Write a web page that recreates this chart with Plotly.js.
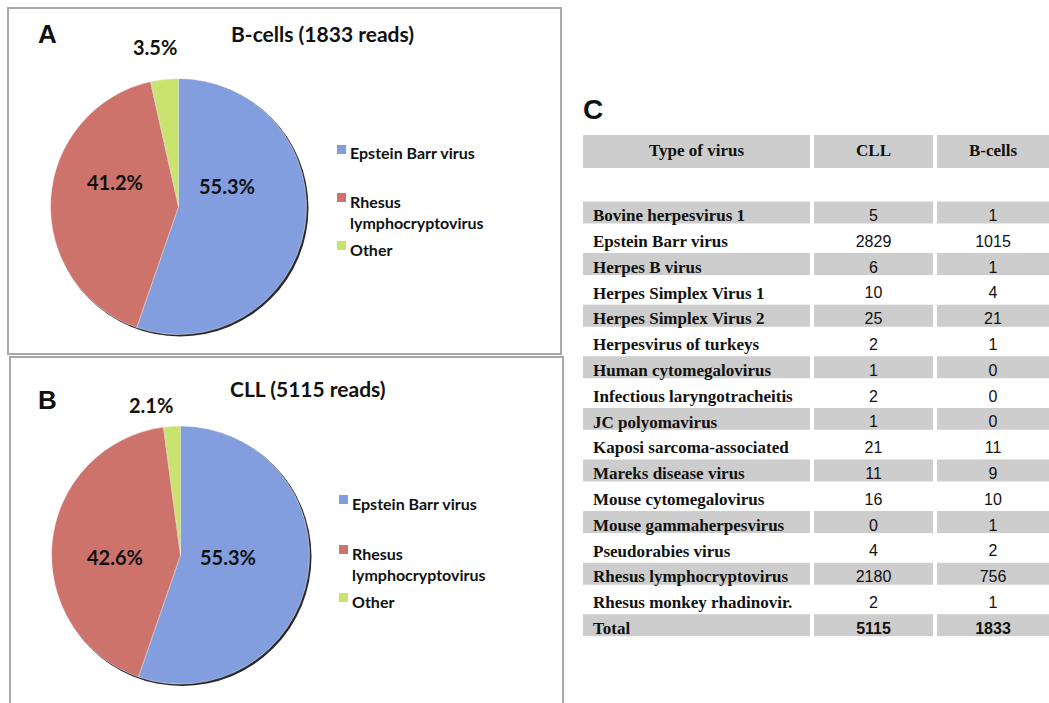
<!DOCTYPE html>
<html>
<head>
<meta charset="utf-8">
<script src="https://cdn.plot.ly/plotly-3.0.1.min.js"></script>
<style>html,body{margin:0;padding:0;background:#fff;}#chart{width:1049px;height:703px;}</style>
</head>
<body>
<div id="chart"></div>
<script>
// ---- data ----
const pieLabels = ['Epstein Barr virus', 'Rhesus<br>lymphocryptovirus', 'Other'];
const bcellPercent = [55.3, 41.2, 3.5];
const cllPercent = [55.3, 42.6, 2.1];
const bcellTitle = 'B-cells (1833 reads)';
const cllTitle = 'CLL (5115 reads)';

const tableHeader = ['Type of virus', 'CLL', 'B-cells'];
const virusNames = ['Bovine herpesvirus 1', 'Epstein Barr virus', 'Herpes B virus', 'Herpes Simplex Virus 1',
  'Herpes Simplex Virus 2', 'Herpesvirus of turkeys', 'Human cytomegalovirus', 'Infectious laryngotracheitis',
  'JC polyomavirus', 'Kaposi sarcoma-associated', 'Mareks disease virus', 'Mouse cytomegalovirus',
  'Mouse gammaherpesvirus', 'Pseudorabies virus', 'Rhesus lymphocryptovirus', 'Rhesus monkey rhadinovir.', 'Total'];
const cllCounts = [5, 2829, 6, 10, 25, 2, 1, 2, 1, 21, 11, 16, 0, 4, 2180, 2, 5115];
const bcellCounts = [1, 1015, 1, 4, 21, 1, 0, 0, 0, 11, 9, 10, 1, 2, 756, 1, 1833];

// ---- layout helpers ----
const W = 1049, H = 703;
const px = x => x / W;
const py = y => 1 - y / H;

const sliceColors = ['#829ede', '#cd736c', '#c8e46e'];
const sans = 'Lato, Carlito, sans-serif';
const serif = 'Liberation Serif, Times New Roman, serif';
const arial = 'Liberation Sans, Arial, sans-serif';

function pieTrace(values, cx, cy, r) {
  return {
    type: 'pie', values: values, labels: pieLabels, sort: false, direction: 'clockwise', rotation: 0,
    domain: {x: [px(cx - r), px(cx + r)], y: [py(cy + r), py(cy - r)]},
    marker: {colors: sliceColors, line: {color: 'rgba(255,255,255,0.55)', width: 0.8}},
    textinfo: 'none', hoverinfo: 'label+percent', showlegend: false
  };
}

// ---- table (cartesian axes: x in pixels, y in table rows) ----
const rowPitch = 25.8, row0 = 217;
const rowU = p => (p - row0) / rowPitch;
const colLeft = [583, 814, 937];
const colRight = [810, 933, 1049];
const colCenter = colLeft.map((l, i) => (l + colRight[i]) / 2);
const headerY = rowU(151.5);

const rowIdx = virusNames.map((_, i) => i);
const greyRows = rowIdx.filter(i => i % 2 === 0);
const isTotal = i => i === virusNames.length - 1;

const bandTraces = [];
for (let c = 0; c < 3; c++) {
  bandTraces.push({
    type: 'bar', orientation: 'h', xaxis: 'x', yaxis: 'y',
    y: greyRows, x: greyRows.map(() => colRight[c] - colLeft[c]), base: colLeft[c],
    width: 0.85, offset: -0.6, marker: {color: '#cdcdcd', line: {width: 0}}, hoverinfo: 'skip', showlegend: false
  });
  bandTraces.push({
    type: 'bar', orientation: 'h', xaxis: 'x', yaxis: 'y',
    y: [headerY], x: [colRight[c] - colLeft[c]], base: colLeft[c],
    width: 33 / rowPitch, offset: -16.5 / rowPitch, marker: {color: '#cdcdcd', line: {width: 0}}, hoverinfo: 'skip', showlegend: false
  });
}

const textTraces = [
  {type: 'scatter', mode: 'text', x: tableHeader.map((_, i) => colCenter[i]), y: tableHeader.map(() => headerY),
    text: tableHeader.map(s => '<b>' + s + '</b>'), textposition: 'middle center',
    textfont: {family: serif, size: 17, color: '#111'}},
  {type: 'scatter', mode: 'text', x: rowIdx.map(() => colLeft[0] + 10), y: rowIdx,
    text: virusNames.map(s => '<b>' + s + '</b>'), textposition: 'middle right',
    textfont: {family: serif, size: 17, color: '#111'}},
  {type: 'scatter', mode: 'text', x: rowIdx.map(() => colCenter[1]), y: rowIdx,
    text: cllCounts.map((v, i) => isTotal(i) ? '<b>' + v + '</b>' : String(v)), textposition: 'middle center',
    textfont: {family: arial, size: 16, color: '#111'}},
  {type: 'scatter', mode: 'text', x: rowIdx.map(() => colCenter[2]), y: rowIdx,
    text: bcellCounts.map((v, i) => isTotal(i) ? '<b>' + v + '</b>' : String(v)), textposition: 'middle center',
    textfont: {family: arial, size: 16, color: '#111'}}
].map(t => Object.assign(t, {xaxis: 'x', yaxis: 'y', hoverinfo: 'skip', showlegend: false, cliponaxis: false}));

// ---- annotations & shapes ----
function ann(text, x, y, size, family, xanchor) {
  return {text: text, x: px(x), y: py(y), xref: 'paper', yref: 'paper', showarrow: false,
    xanchor: xanchor || 'center', yanchor: 'middle', font: {family: family, size: size, color: '#111'}};
}
const pctFmt = v => '<b>' + v.toFixed(1) + '%</b>';

// legend entries built from labels/colors
function legendItems(firstLineY, textX, markX) {
  const out = {anns: [], shapes: []};
  pieLabels.forEach((lab, i) => {
    const y = firstLineY[i];
    out.anns.push({text: '<b>' + lab + '</b>', x: px(textX), y: py(y - 10.5), xref: 'paper', yref: 'paper',
      showarrow: false, xanchor: 'left', yanchor: 'top', align: 'left',
      font: {family: sans, size: 16, color: '#111'}});
    out.shapes.push({type: 'rect', xref: 'paper', yref: 'paper', x0: px(markX), x1: px(markX + 9),
      y0: py(y + 2), y1: py(y - 7), fillcolor: sliceColors[i], line: {width: 0}});
  });
  return out;
}
const legA = legendItems([152, 200, 248], 348, 337);
const legB = legendItems([502, 552, 600], 350, 339);

function shadowCircle(cx, cy, r) {
  return {type: 'circle', xref: 'paper', yref: 'paper', layer: 'below',
    x0: px(cx - r + 1), x1: px(cx + r + 2), y0: py(cy + r + 2), y1: py(cy - r + 1),
    fillcolor: '#2a2a2a', line: {width: 0}};
}

const layout = {
  width: W, height: H, margin: {l: 0, r: 0, t: 0, b: 0}, paper_bgcolor: '#ffffff', plot_bgcolor: 'rgba(0,0,0,0)',
  showlegend: false, barmode: 'overlay',
  xaxis: {domain: [px(583), px(1049)], range: [583, 1049], visible: false, fixedrange: true},
  yaxis: {domain: [0, py(135)], range: [rowU(703), rowU(135)], visible: false, fixedrange: true},
  shapes: [
    {type: 'rect', xref: 'paper', yref: 'paper', x0: px(8), x1: px(561), y0: py(354), y1: py(8),
      line: {color: '#a8a8a8', width: 2}},
    {type: 'rect', xref: 'paper', yref: 'paper', x0: px(10), x1: px(563), y0: py(712), y1: py(357),
      line: {color: '#a8a8a8', width: 2}},
    shadowCircle(178.5, 206.5, 128),
    shadowCircle(180.5, 555, 129)
  ].concat(legA.shapes, legB.shapes),
  annotations: [
    ann('<b>A</b>', 47, 33.5, 26, arial),
    ann('<b>B</b>', 47.5, 400, 26, arial),
    ann('<b>C</b>', 593, 110, 28, arial),
    ann('<b>' + bcellTitle + '</b>', 322.5, 33, 21, sans),
    ann('<b>' + cllTitle + '</b>', 307.5, 388, 21, sans),
    ann(pctFmt(bcellPercent[0]), 226.5, 186, 20, sans),
    ann(pctFmt(bcellPercent[1]), 114.5, 181.5, 20, sans),
    ann(pctFmt(bcellPercent[2]), 155, 47, 20, sans),
    ann(pctFmt(cllPercent[0]), 228, 556.5, 20, sans),
    ann(pctFmt(cllPercent[1]), 114.5, 556.5, 20, sans),
    ann(pctFmt(cllPercent[2]), 150.5, 404.5, 20, sans)
  ].concat(legA.anns, legB.anns)
};

const data = [
  pieTrace(bcellPercent, 178.5, 206.5, 128),
  pieTrace(cllPercent, 180.5, 555, 129)
].concat(bandTraces, textTraces);

Plotly.newPlot('chart', data, layout, {displayModeBar: false, staticPlot: true});
</script>
</body>
</html>
